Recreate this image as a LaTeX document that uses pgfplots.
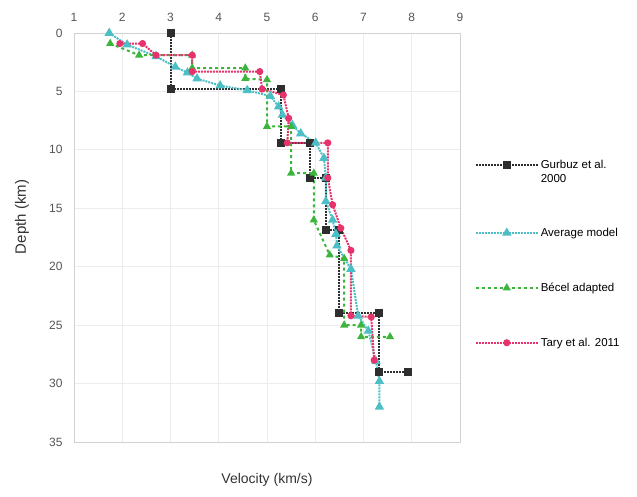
\documentclass[border=0pt]{standalone}
\usepackage{fontspec}
\setmainfont{Liberation Sans}
\usepackage{pgfplots}
\pgfplotsset{compat=1.18}
\definecolor{gurbuz}{HTML}{2E2E2E}
\definecolor{avgcyan}{HTML}{4CBFC6}
\definecolor{becel}{HTML}{3DB53D}
\definecolor{tary}{HTML}{E6336B}
\definecolor{tickgray}{HTML}{555555}

\begin{document}
\begin{tikzpicture}
\begin{axis}[
  scale only axis,
  width=386pt, height=409pt,
  xmin=1, xmax=9, ymin=0, ymax=35,
  y dir=reverse,
  xtick={1,...,9}, ytick={0,5,...,35},
  xticklabel pos=top,
  major tick length=0pt,
  grid=major,
  grid style={gray!15, line width=0.8pt},
  axis line style={gray!35},
  tick label style={font=\fontsize{12}{14}\selectfont, text=tickgray},
  xticklabel style={yshift=8pt},
  yticklabel style={xshift=-8pt},
  /pgf/number format/assume math mode=true,
  xlabel={Velocity (km/s)},
  ylabel={Depth (km)},
  every axis x label/.style={at={(axis description cs:0.5,-0.093)}, anchor=center,
    font=\fontsize{14}{16}\selectfont, text=black!80},
  every axis y label/.style={at={(axis description cs:-0.135,0.55)}, anchor=center,
    rotate=90, font=\fontsize{15}{17}\selectfont, text=black!80},
  legend style={at={(axis description cs:1.03,0.70)}, anchor=north west,
    draw=none, fill=none, font=\fontsize{11.5}{14}\selectfont,
    row sep=41pt, cells={anchor=base west}},
  legend image code/.code={%
    \draw[mark repeat=2,mark phase=2] plot coordinates {(0pt,0.33em) (31pt,0.33em) (62pt,0.33em)};},
]
% Gurbuz et al. 2000
\addplot[gurbuz, line width=2pt, densely dotted, mark=square*, mark size=3pt, mark options={solid}]
  coordinates {
    (3,0) (3,4.8) (5.3,4.8) (5.3,9.4) (5.9,9.4) (5.9,12.4) (6.22,12.4)
    (6.22,16.9) (6.49,16.9) (6.49,24.0) (7.33,24.0) (7.33,29.0) (7.93,29.0)
  };
\addlegendentry{\rlap{\raisebox{-14pt}{2000}}Gurbuz et al.}
% average model
\addplot[avgcyan, line width=2pt, densely dotted, mark=triangle*, mark size=3.5pt, mark options={solid}]
  coordinates {
    (1.73,0) (2.1,1.0) (2.7,2.0) (3.1,2.9) (3.35,3.4) (3.55,3.9) (4.03,4.5)
    (4.59,4.9) (5.07,5.4) (5.24,6.3) (5.32,7.0) (5.53,7.9) (5.70,8.6)
    (6.01,9.4) (6.18,10.7) (6.22,12.4) (6.22,14.4) (6.36,16.0) (6.43,17.2)
    (6.45,18.2) (6.74,20.2) (6.89,24.2) (7.1,25.5) (7.26,28.1) (7.33,29.8)
    (7.33,32)
  };
\addlegendentry{\rule{0pt}{21.5pt}Average model}
% Becel adapted
\addplot[becel, line width=2pt, dashed, mark=triangle*, mark size=2.8pt, mark options={solid}]
  coordinates {
    (1.75,0.9) (2.35,1.9) (3.45,1.9) (3.45,3.0) (4.55,3.0) (4.55,3.9)
    (5.0,4.0) (5.0,8.0) (5.5,8.0) (5.5,12.0) (5.97,12.0) (5.97,16.0)
    (6.3,19.0) (6.6,19.3) (6.6,25.0) (6.95,25.0) (6.95,26.0) (7.55,26.0)
  };
\addlegendentry{Bécel adapted}
% Tary et al. 2011
\addplot[tary, line width=2pt, densely dotted, mark=*, mark size=2.5pt, mark options={solid}]
  coordinates {
    (1.95,0.9) (2.42,0.9) (2.7,1.9) (3.45,1.9) (3.45,3.3) (4.85,3.3)
    (4.9,4.8) (5.34,5.3) (5.45,7.3) (5.42,9.4) (6.26,9.4) (6.26,12.4)
    (6.36,14.7) (6.53,16.7) (6.74,18.6) (6.74,24.2) (7.16,24.3) (7.22,28.0)
  };
\addlegendentry{Tary et al. 2011}
\end{axis}
\path[use as bounding box] (-74pt,-54pt) rectangle (563pt,442pt);
\end{tikzpicture}
\end{document}
